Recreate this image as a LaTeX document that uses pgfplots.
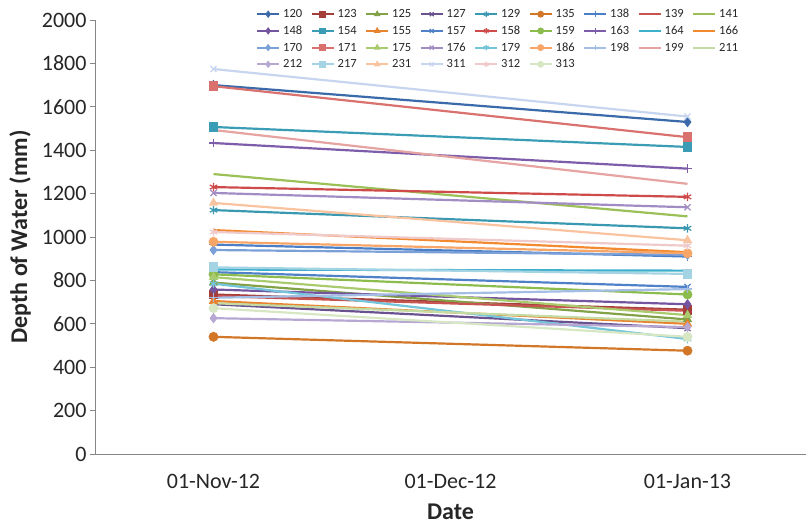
\documentclass[border=0pt]{standalone}
\usepackage{fontspec}
\setmainfont{Carlito}
\usepackage{pgfplots}
\pgfplotsset{compat=1.18}
\definecolor{axisgray}{HTML}{868686}
\definecolor{c120}{HTML}{3A6AAA}
\definecolor{c123}{HTML}{A43E3B}
\definecolor{c125}{HTML}{83A248}
\definecolor{c127}{HTML}{6A5190}
\definecolor{c129}{HTML}{3A98B0}
\definecolor{c135}{HTML}{D27628}
\definecolor{c138}{HTML}{4A7EC6}
\definecolor{c139}{HTML}{C85451}
\definecolor{c141}{HTML}{9BC057}
\definecolor{c148}{HTML}{7456A0}
\definecolor{c154}{HTML}{3A9CB5}
\definecolor{c155}{HTML}{E88330}
\definecolor{c157}{HTML}{4F81C9}
\definecolor{c158}{HTML}{CE4B4A}
\definecolor{c159}{HTML}{8DBC4E}
\definecolor{c163}{HTML}{7D5DAA}
\definecolor{c164}{HTML}{3EB0CC}
\definecolor{c166}{HTML}{F48A30}
\definecolor{c170}{HTML}{7BA0D8}
\definecolor{c171}{HTML}{D9716E}
\definecolor{c175}{HTML}{A9CB6E}
\definecolor{c176}{HTML}{A28CC4}
\definecolor{c179}{HTML}{74C4DA}
\definecolor{c186}{HTML}{F7A668}
\definecolor{c198}{HTML}{A3BDE5}
\definecolor{c199}{HTML}{E5A3A2}
\definecolor{c211}{HTML}{C4DCA3}
\definecolor{c212}{HTML}{B6A8D2}
\definecolor{c217}{HTML}{A4D4E4}
\definecolor{c231}{HTML}{F9C39F}
\definecolor{c311}{HTML}{C8D5EE}
\definecolor{c312}{HTML}{F0CACA}
\definecolor{c313}{HTML}{D7E7C4}
\pgfplotsset{
  ser/.style 2 args={draw=#1, line width=2.2pt, mark=#2, mark size=4.3pt,
    mark options={solid, line width=1.2pt, draw=#1, fill=#1}},
  nom/.style={draw=#1, line width=2.2pt, mark=none},
}
\begin{document}
\begin{tikzpicture}
\useasboundingbox (-95pt,-71pt) rectangle (713pt,454pt);
\begin{axis}[
  scale only axis, width=711pt, height=434pt,
  at={(0,0)}, anchor=south west,
  xmin=-0.5, xmax=2.5, ymin=0, ymax=2000,
  xtick={0,1,2}, xticklabels={01-Nov-12,01-Dec-12,01-Jan-13},
  ytick={0,200,...,2000},
  axis lines=left,
  axis line style={draw=axisgray, line width=0.8pt, -},
  ytick style={draw=axisgray, line width=0.8pt},
  xtick style={draw=none},
  tick align=outside, major tick length=5pt,
  ticklabel style={font=\fontsize{22}{22}\selectfont, text=black!85},
  xticklabel style={yshift=-12pt},
  /pgf/number format/assume math mode=true,
  /pgf/number format/1000 sep={},
  xlabel={Date}, ylabel={Depth of Water (mm)},
  label style={font=\fontsize{24}{24}\selectfont\bfseries, text=black!85, inner sep=1pt},
  xlabel style={at={(axis description cs:0.5,-0.1330)}, anchor=center},
  ylabel style={at={(axis description cs:-0.1055,0.5)}, anchor=center},
  legend columns=9,
  legend image code/.code={\draw[mark repeat=2,mark phase=2,#1, line width=2pt, mark size=2.8pt] plot coordinates {(0pt,0pt) (11pt,0pt) (22pt,0pt)};},
  legend style={at={(rel axis cs:0.2264,1.0276)}, anchor=north west,
    draw=none, fill=none, inner sep=0pt,
    font=\fontsize{12.5}{12.5}\selectfont, text=black!85,
    nodes={inner sep=1.5pt, text height=8pt, text depth=1pt},
    row sep=4.7pt,
    /tikz/every odd column/.append style={column sep=1.5pt},
    /tikz/every even column/.append style={column sep=7pt}},
  clip=false,
]
\addplot[ser={c120}{diamond*}] coordinates {(0,1700) (2,1530)}; \addlegendentry{120}
\addplot[ser={c123}{square*}] coordinates {(0,735) (2,665)}; \addlegendentry{123}
\addplot[ser={c125}{triangle*}] coordinates {(0,790) (2,620)}; \addlegendentry{125}
\addplot[ser={c127}{x}] coordinates {(0,690) (2,580)}; \addlegendentry{127}
\addplot[ser={c129}{asterisk}] coordinates {(0,1124) (2,1040)}; \addlegendentry{129}
\addplot[ser={c135}{*}] coordinates {(0,540) (2,476)}; \addlegendentry{135}
\addplot[ser={c138}{+}] coordinates {(0,965) (2,910)}; \addlegendentry{138}
\addplot[nom={c139}] coordinates {(0,728) (2,660)}; \addlegendentry{139}
\addplot[nom={c141}] coordinates {(0,1290) (2,1095)}; \addlegendentry{141}
\addplot[ser={c148}{diamond*}] coordinates {(0,758) (2,690)}; \addlegendentry{148}
\addplot[ser={c154}{square*}] coordinates {(0,1507) (2,1415)}; \addlegendentry{154}
\addplot[ser={c155}{triangle*}] coordinates {(0,705) (2,600)}; \addlegendentry{155}
\addplot[ser={c157}{x}] coordinates {(0,838) (2,770)}; \addlegendentry{157}
\addplot[ser={c158}{asterisk}] coordinates {(0,1230) (2,1185)}; \addlegendentry{158}
\addplot[ser={c159}{*}] coordinates {(0,828) (2,735)}; \addlegendentry{159}
\addplot[ser={c163}{+}] coordinates {(0,1433) (2,1315)}; \addlegendentry{163}
\addplot[nom={c164}] coordinates {(0,850) (2,845)}; \addlegendentry{164}
\addplot[nom={c166}] coordinates {(0,1032) (2,930)}; \addlegendentry{166}
\addplot[ser={c170}{diamond*}] coordinates {(0,940) (2,918)}; \addlegendentry{170}
\addplot[ser={c171}{square*}] coordinates {(0,1695) (2,1460)}; \addlegendentry{171}
\addplot[ser={c175}{triangle*}] coordinates {(0,815) (2,640)}; \addlegendentry{175}
\addplot[ser={c176}{x}] coordinates {(0,1203) (2,1137)}; \addlegendentry{176}
\addplot[ser={c179}{asterisk}] coordinates {(0,785) (2,530)}; \addlegendentry{179}
\addplot[ser={c186}{*}] coordinates {(0,978) (2,925)}; \addlegendentry{186}
\addplot[ser={c198}{+}] coordinates {(0,720) (2,760)}; \addlegendentry{198}
\addplot[nom={c199}] coordinates {(0,1493) (2,1245)}; \addlegendentry{199}
\addplot[nom={c211}] coordinates {(0,695) (2,610)}; \addlegendentry{211}
\addplot[ser={c212}{diamond*}] coordinates {(0,626) (2,585)}; \addlegendentry{212}
\addplot[ser={c217}{square*}] coordinates {(0,860) (2,830)}; \addlegendentry{217}
\addplot[ser={c231}{triangle*}] coordinates {(0,1157) (2,985)}; \addlegendentry{231}
\addplot[ser={c311}{x}] coordinates {(0,1774) (2,1555)}; \addlegendentry{311}
\addplot[ser={c312}{asterisk}] coordinates {(0,1023) (2,960)}; \addlegendentry{312}
\addplot[ser={c313}{*}] coordinates {(0,672) (2,540)}; \addlegendentry{313}
\end{axis}
\end{tikzpicture}
\end{document}
